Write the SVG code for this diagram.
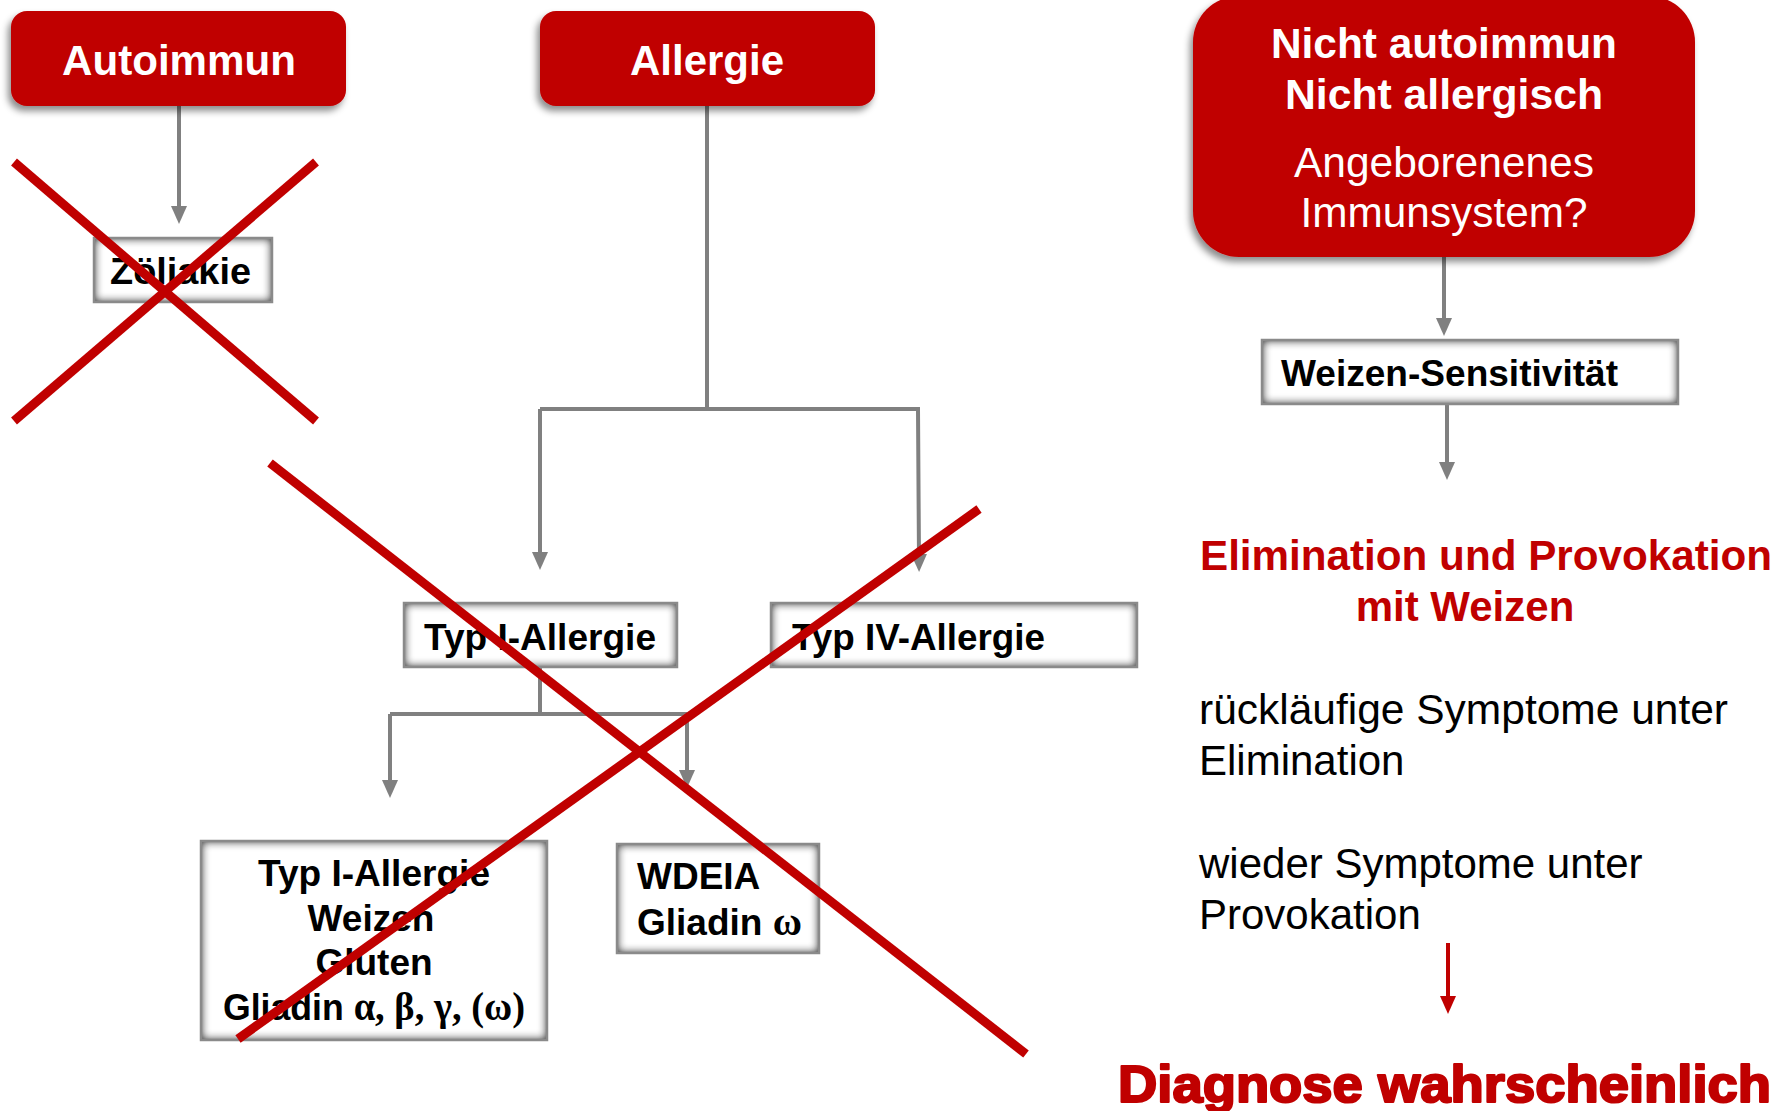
<svg xmlns="http://www.w3.org/2000/svg" width="1781" height="1111" viewBox="0 0 1781 1111">
  <style>
    .sans { font-family: "Liberation Sans", Arial, sans-serif; }
    .serif { font-family: "Liberation Serif", "Times New Roman", serif; }
    .head { fill: #c00000; }
    .headtxt { fill: #ffffff; font-weight: bold; font-size: 42px; }
    .headreg { fill: #ffffff; font-size: 43px; }
    .boxfill { fill: #ffffff; }
    .boxedge { fill: none; stroke: #8a8a8a; stroke-width: 2.5; }
    .boxtxt { fill: #000000; font-weight: bold; font-size: 37px; }
    .conn { fill: none; stroke: #808080; stroke-width: 4; }
    .redconn { fill: none; stroke: #c00000; stroke-width: 4; }
    .cross { stroke: #c00000; stroke-width: 9; stroke-linecap: butt; }
    .redtxt { fill: #c00000; font-weight: bold; font-size: 42px; }
    .plain { fill: #000000; font-size: 42px; }
    .heavy { fill: #c00000; stroke: #c00000; stroke-width: 2.2; stroke-linejoin: round; font-weight: bold; font-size: 52px; }
  </style>
  <defs>
    <filter id="dropshadow" x="-10%" y="-10%" width="125%" height="130%">
      <feGaussianBlur in="SourceAlpha" stdDeviation="3.5"/>
      <feOffset dx="-3" dy="5" result="sh"/>
      <feFlood flood-color="#000000" flood-opacity="0.45"/>
      <feComposite in2="sh" operator="in"/>
      <feMerge><feMergeNode/><feMergeNode in="SourceGraphic"/></feMerge>
    </filter>
    <!-- soft gray rim inside the label boxes -->
    <filter id="innerglow" x="-10%" y="-20%" width="120%" height="140%" color-interpolation-filters="sRGB">
      <feGaussianBlur in="SourceAlpha" stdDeviation="5" result="b"/>
      <feComponentTransfer in="b" result="inv">
        <feFuncA type="linear" slope="-1.6" intercept="1.6"/>
      </feComponentTransfer>
      <feFlood flood-color="#6a6a6a" result="f"/>
      <feComposite in="f" in2="inv" operator="in" result="o"/>
      <feComposite in="o" in2="SourceAlpha" operator="in" result="s"/>
      <feMerge><feMergeNode in="SourceGraphic"/><feMergeNode in="s"/></feMerge>
    </filter>
    <marker id="arrowGray" viewBox="0 0 18 16" markerUnits="userSpaceOnUse" markerWidth="18" markerHeight="16" refX="6" refY="8" orient="auto">
      <path d="M0,0 L18,8 L0,16 z" fill="#808080"/>
    </marker>
    <marker id="arrowRed" viewBox="0 0 18 16" markerUnits="userSpaceOnUse" markerWidth="18" markerHeight="16" refX="6" refY="8" orient="auto">
      <path d="M0,0 L18,8 L0,16 z" fill="#c00000"/>
    </marker>
  </defs>

  <rect width="1781" height="1111" fill="#ffffff"/>

  <!-- connectors -->
  <g id="connectors">
    <line class="conn" x1="179" y1="106" x2="179" y2="212" marker-end="url(#arrowGray)"/>
    <polyline class="conn" points="707,106 707,409"/>
    <polyline class="conn" points="540,409 918,409 919,560" marker-end="url(#arrowGray)"/>
    <line class="conn" x1="540" y1="409" x2="540" y2="558" marker-end="url(#arrowGray)"/>
    <line class="conn" x1="540" y1="667" x2="540" y2="714"/>
    <polyline class="conn" points="390,714 687,714"/>
    <line class="conn" x1="390" y1="714" x2="390" y2="786" marker-end="url(#arrowGray)"/>
    <line class="conn" x1="687" y1="714" x2="687" y2="776" marker-end="url(#arrowGray)"/>
    <line class="conn" x1="1444" y1="257" x2="1444" y2="324" marker-end="url(#arrowGray)"/>
    <line class="conn" x1="1447" y1="404" x2="1447" y2="468" marker-end="url(#arrowGray)"/>
    <line class="redconn" x1="1448" y1="943" x2="1448" y2="1002" marker-end="url(#arrowRed)"/>
  </g>

  <!-- category headers -->
  <g id="autoimmun">
    <rect class="head" x="11" y="11" width="335" height="95" rx="16" filter="url(#dropshadow)"/>
    <text class="sans headtxt" x="179" y="75" text-anchor="middle" textLength="234" lengthAdjust="spacingAndGlyphs">Autoimmun</text>
  </g>
  <g id="allergie">
    <rect class="head" x="540" y="11" width="335" height="95" rx="16" filter="url(#dropshadow)"/>
    <text class="sans headtxt" x="707" y="75" text-anchor="middle" textLength="154" lengthAdjust="spacingAndGlyphs">Allergie</text>
  </g>
  <g id="nicht-autoimmun">
    <rect class="head" x="1193" y="-4" width="502" height="261" rx="46" filter="url(#dropshadow)"/>
    <text class="sans headtxt" x="1444" y="58" text-anchor="middle" font-size="40" textLength="346" lengthAdjust="spacingAndGlyphs">Nicht autoimmun</text>
    <text class="sans headtxt" x="1444" y="109" text-anchor="middle" font-size="40" textLength="318" lengthAdjust="spacingAndGlyphs">Nicht allergisch</text>
    <text class="sans headreg" x="1444" y="177" text-anchor="middle" textLength="300" lengthAdjust="spacingAndGlyphs">Angeborenenes</text>
    <text class="sans headreg" x="1444" y="227" text-anchor="middle" textLength="287" lengthAdjust="spacingAndGlyphs">Immunsystem?</text>
  </g>

  <!-- gray boxes -->
  <g id="zoeliakie">
    <rect class="boxfill" x="94" y="238" width="178" height="64" filter="url(#innerglow)"/>
    <rect class="boxedge" x="94" y="238" width="178" height="64"/>
    <text class="sans boxtxt" x="110" y="284" textLength="141" lengthAdjust="spacingAndGlyphs">Zöliakie</text>
  </g>
  <g id="typ1">
    <rect class="boxfill" x="404" y="603" width="273" height="64" filter="url(#innerglow)"/>
    <rect class="boxedge" x="404" y="603" width="273" height="64"/>
    <text class="sans boxtxt" x="424" y="650" textLength="232" lengthAdjust="spacingAndGlyphs">Typ I-Allergie</text>
  </g>
  <g id="typ4">
    <rect class="boxfill" x="771" y="603" width="366" height="64" filter="url(#innerglow)"/>
    <rect class="boxedge" x="771" y="603" width="366" height="64"/>
    <text class="sans boxtxt" x="792" y="650" textLength="253" lengthAdjust="spacingAndGlyphs">Typ IV-Allergie</text>
  </g>
  <g id="typ1-weizen">
    <rect class="boxfill" x="201" y="841" width="346" height="199" filter="url(#innerglow)"/>
    <rect class="boxedge" x="201" y="841" width="346" height="199"/>
    <text class="sans boxtxt" x="374" y="886" text-anchor="middle" textLength="232" lengthAdjust="spacingAndGlyphs">Typ I-Allergie</text>
    <text class="sans boxtxt" x="371" y="931" text-anchor="middle">Weizen</text>
    <text class="sans boxtxt" x="374" y="975" text-anchor="middle">Gluten</text>
    <text class="sans boxtxt" x="374" y="1020" text-anchor="middle" textLength="302" lengthAdjust="spacingAndGlyphs">Gliadin <tspan class="serif" font-size="40">α, β, γ, (ω)</tspan></text>
  </g>
  <g id="wdeia">
    <rect class="boxfill" x="617" y="844" width="202" height="109" filter="url(#innerglow)"/>
    <rect class="boxedge" x="617" y="844" width="202" height="109"/>
    <text class="sans boxtxt" x="637" y="889">WDEIA</text>
    <text class="sans boxtxt" x="637" y="935">Gliadin <tspan class="serif" font-size="40">ω</tspan></text>
  </g>
  <g id="weizen-sensitivitaet">
    <rect class="boxfill" x="1262" y="340" width="416" height="64" filter="url(#innerglow)"/>
    <rect class="boxedge" x="1262" y="340" width="416" height="64"/>
    <text class="sans boxtxt" x="1281" y="386" textLength="337" lengthAdjust="spacingAndGlyphs">Weizen-Sensitivität</text>
  </g>

  <!-- test procedure and outcome -->
  <g id="provokation">
    <text class="sans redtxt" x="1486" y="570" text-anchor="middle" textLength="572" lengthAdjust="spacingAndGlyphs">Elimination und Provokation</text>
    <text class="sans redtxt" x="1465" y="621" text-anchor="middle">mit Weizen</text>
    <text class="sans plain" x="1199" y="724" textLength="529" lengthAdjust="spacingAndGlyphs">rückläufige Symptome unter</text>
    <text class="sans plain" x="1199" y="775">Elimination</text>
    <text class="sans plain" x="1199" y="878">wieder Symptome unter</text>
    <text class="sans plain" x="1199" y="929">Provokation</text>
  </g>
  <g id="diagnose">
    <text class="sans heavy" x="1118" y="1102" textLength="653" lengthAdjust="spacingAndGlyphs">Diagnose wahrscheinlich</text>
  </g>

  <!-- ruled-out branches -->
  <g id="crosses">
    <line class="cross" x1="14" y1="162" x2="316" y2="421"/>
    <line class="cross" x1="316" y1="162" x2="14" y2="421"/>
    <line class="cross" x1="270" y1="463" x2="1026" y2="1054"/>
    <line class="cross" x1="979" y1="509" x2="238" y2="1039"/>
  </g>
</svg>
